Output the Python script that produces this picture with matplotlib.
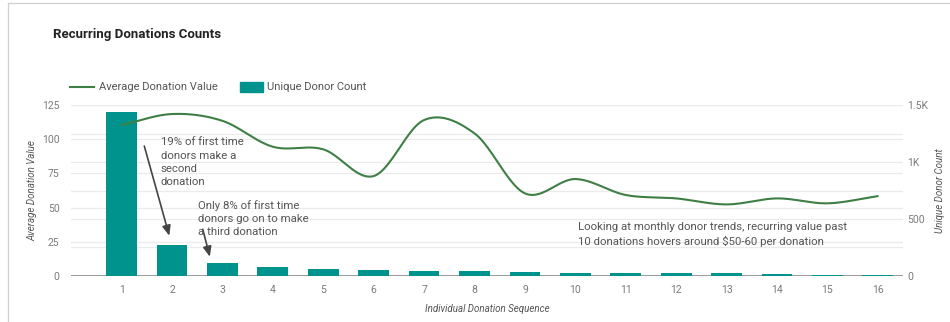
import numpy as np
import matplotlib
matplotlib.use("Agg")
import matplotlib.pyplot as plt
from matplotlib.lines import Line2D
from matplotlib.patches import Rectangle

plt.rcParams['font.family'] = ['Roboto', 'DejaVu Sans']

# Data
sequence = list(range(1, 17))
avg_donation_value = [110.5, 118.6, 113.6, 94.6, 92.7, 73.1, 114.2, 104.4,
                      60.4, 70.9, 59.2, 56.7, 52.3, 56.7, 53.1, 58.4]
unique_donor_count = [1438, 271, 112, 76, 59, 47, 38, 38,
                      32, 24, 26, 20, 20, 12, 9, 6]
left_ticks = [0, 25, 50, 75, 100, 125]
right_ticks = [0, 500, 1000, 1500]
right_tick_labels = ['0', '500', '1K', '1.5K']

BAR_COLOR = '#00928c'
LINE_COLOR = '#3e7f45'
GRID_COLOR = '#ebebeb'
TICK_COLOR = '#7a7a7a'
TEXT_COLOR = '#555555'

W, H = 950, 322
fig = plt.figure(figsize=(W / 100, H / 100), dpi=100)
fig.patch.set_facecolor('white')


def fx(px):
    return px / W


def fy(py):
    return 1 - py / H


# panel border
fig.add_artist(Line2D([fx(8), 1], [fy(2.5), fy(2.5)], color='#d0d0d0', lw=0.9))
fig.add_artist(Line2D([fx(8), fx(8)], [fy(2.5), 0], color='#d0d0d0', lw=0.9))

ax = fig.add_axes([fx(70.7), fy(275.7), fx(903 - 70.7), (275.7 - 105.3) / H])
ax2 = ax.twinx()
# overlay axis for the line so it sits above the bars
ax3 = ax2.twinx()
ax2.yaxis.tick_right()
ax2.yaxis.set_label_position('right')
ax3.set_ylim(0, 125)
ax3.axis('off')

# bars on the right axis
ax2.bar(sequence, unique_donor_count, width=0.61, color=BAR_COLOR, zorder=3)
ax2.set_ylim(0, 1500)
ax.set_ylim(0, 125)
ax.set_xlim(-0.01, 16.5)

# gridlines for both scales
for v in left_ticks[1:]:
    ax.axhline(v, color=GRID_COLOR, lw=0.9, zorder=0)
for v in range(250, 1501, 250):
    ax2.axhline(v, color=GRID_COLOR, lw=0.9, zorder=0)
ax2.axhline(0, color='#9a9a9a', lw=1.4, zorder=2)


# smooth curve through the average donation values (Catmull-Rom)
def catmull_rom(xs, ys, n=40):
    xs = np.asarray(xs, float)
    ys = np.asarray(ys, float)
    px = np.concatenate([[2 * xs[0] - xs[1]], xs, [2 * xs[-1] - xs[-2]]])
    py = np.concatenate([[2 * ys[0] - ys[1]], ys, [2 * ys[-1] - ys[-2]]])
    out_x, out_y = [], []
    t = np.linspace(0, 1, n, endpoint=False)
    for i in range(1, len(px) - 2):
        p0, p1, p2, p3 = py[i - 1], py[i], py[i + 1], py[i + 2]
        q0, q1, q2, q3 = px[i - 1], px[i], px[i + 1], px[i + 2]
        for arr, a0, a1, a2, a3 in ((out_y, p0, p1, p2, p3), (out_x, q0, q1, q2, q3)):
            arr.extend(0.5 * ((2 * a1) + (-a0 + a2) * t
                              + (2 * a0 - 5 * a1 + 4 * a2 - a3) * t ** 2
                              + (-a0 + 3 * a1 - 3 * a2 + a3) * t ** 3))
    out_x.append(xs[-1])
    out_y.append(ys[-1])
    return np.array(out_x), np.array(out_y)


cx, cy = catmull_rom(sequence, avg_donation_value)
ax3.plot(cx, cy, color=LINE_COLOR, lw=1.5, zorder=4, solid_capstyle='round')

for a in (ax, ax2):
    for s in a.spines.values():
        s.set_visible(False)
    a.tick_params(length=0, colors=TICK_COLOR, labelsize=7.5)

ax.set_xticks(sequence)
ax.tick_params(axis='x', pad=7)
ax.tick_params(axis='y', pad=8)
ax.set_yticks(left_ticks)
ax2.set_yticks(right_ticks)
ax2.set_yticklabels(right_tick_labels)
ax2.tick_params(axis='y', pad=3)

ax.set_ylabel('Average Donation Value', fontsize=7, style='italic', color=TEXT_COLOR, labelpad=3)
ax2.set_ylabel('Unique Donor Count', fontsize=7, style='italic', color=TEXT_COLOR, labelpad=5)
ax.set_xlabel('Individual Donation Sequence', fontsize=7, style='italic', color=TEXT_COLOR, labelpad=6)

# title
fig.text(fx(53), fy(28), 'Recurring Donations Counts', fontsize=9.5, fontweight='bold',
         color='#222222', va='top', ha='left')

# legend
fig.add_artist(Line2D([fx(70), fx(94)], [fy(87), fy(87)], color=LINE_COLOR, lw=1.5))
fig.text(fx(99), fy(87), 'Average Donation Value', fontsize=8, color=TEXT_COLOR, va='center')
fig.add_artist(Rectangle((fx(240), fy(92)), fx(23), 10 / H, color=BAR_COLOR,
                         transform=fig.transFigure))
fig.text(fx(267), fy(87), 'Unique Donor Count', fontsize=8, color=TEXT_COLOR, va='center')

# annotations
note_kw = dict(fontsize=8.2, color=TEXT_COLOR, va='top', ha='left', linespacing=1.4, zorder=6)
ax3.text(1.78, 101.5, '19% of first time\ndonors make a\nsecond\ndonation', **note_kw)
ax3.text(2.51, 55.5, 'Only 8% of first time\ndonors go on to make\na third donation', **note_kw)
ax3.text(10.06, 39.5, 'Looking at monthly donor trends, recurring value past\n'
                      '10 donations hovers around $50-60 per donation', **note_kw)

arrow_kw = dict(arrowstyle='-|>,head_length=0.6,head_width=0.25', color='#444444', lw=1.2,
                shrinkA=0, shrinkB=0)
ax3.annotate('', xy=(1.946, 29.3), xytext=(1.45, 95.1), arrowprops=arrow_kw)
ax3.annotate('', xy=(2.75, 13.9), xytext=(2.61, 34.0), arrowprops=arrow_kw)

fig.savefig('out.png', dpi=100)
